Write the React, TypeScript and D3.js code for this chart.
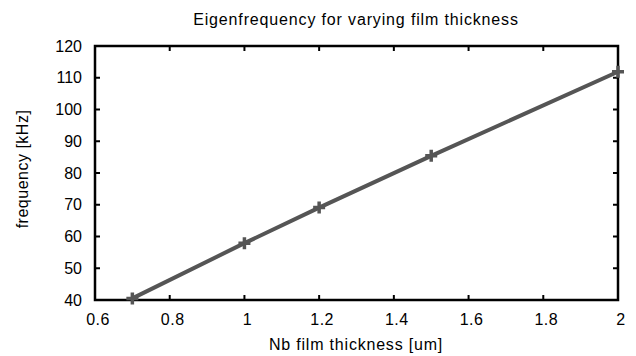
import * as d3 from "d3";
import React, { useEffect, useRef } from "react";

const thickness = [0.7, 1.0, 1.2, 1.5, 2.0];
const frequency = [40.5, 57.9, 69.1, 85.4, 111.9];
const xTicks = [0.6, 0.8, 1, 1.2, 1.4, 1.6, 1.8, 2];
const yTicks = [40, 50, 60, 70, 80, 90, 100, 110, 120];

const App = () => {
  const svgRef = useRef<SVGSVGElement>(null);

  useEffect(() => {
    const svg = d3.select(svgRef.current);
    const width = 636;
    const height = 356;
    const margin = { top: 46, right: 18, bottom: 56, left: 95 };
    const innerWidth = width - margin.left - margin.right;
    const innerHeight = height - margin.top - margin.bottom;
    const font = "'Liberation Sans', Arial, sans-serif";

    svg.selectAll("*").remove();

    const x = d3.scaleLinear().domain([0.6, 2]).range([0, innerWidth]);
    const y = d3.scaleLinear().domain([40, 120]).range([innerHeight, 0]);

    const g = svg
      .append("g")
      .attr("transform", `translate(${margin.left},${margin.top})`);

    // inward ticks on all four sides
    const tickLen = 5;
    const tickSides = [
      { data: xTicks, f: (d) => [x(d), innerHeight, x(d), innerHeight - tickLen] },
      { data: xTicks, f: (d) => [x(d), 0, x(d), tickLen] },
      { data: yTicks, f: (d) => [0, y(d), tickLen, y(d)] },
      { data: yTicks, f: (d) => [innerWidth, y(d), innerWidth - tickLen, y(d)] },
    ];
    tickSides.forEach((s) => {
      g.append("g")
        .selectAll("line")
        .data(s.data)
        .enter()
        .append("line")
        .attr("x1", (d) => s.f(d)[0])
        .attr("y1", (d) => s.f(d)[1])
        .attr("x2", (d) => s.f(d)[2])
        .attr("y2", (d) => s.f(d)[3])
        .attr("stroke", "#000")
        .attr("stroke-width", 2);
    });

    // tick labels
    g.append("g")
      .selectAll("text")
      .data(xTicks)
      .enter()
      .append("text")
      .attr("x", (d) => x(d) + 3)
      .attr("y", innerHeight + 25)
      .attr("text-anchor", "middle")
      .style("font-family", font)
      .style("font-size", "16px")
      .style("letter-spacing", "0.5px")
      .text((d) => d3.format("")(d));
    g.append("g")
      .selectAll("text")
      .data(yTicks)
      .enter()
      .append("text")
      .attr("x", -13)
      .attr("y", (d) => y(d))
      .attr("dy", "0.35em")
      .attr("text-anchor", "end")
      .style("font-family", font)
      .style("font-size", "16px")
      .text((d) => d);

    // frame
    g.append("rect")
      .attr("width", innerWidth)
      .attr("height", innerHeight)
      .attr("fill", "none")
      .attr("stroke", "#000")
      .attr("stroke-width", 2.5);

    // line
    const pts = thickness.map((t, i) => [t, frequency[i]] as [number, number]);
    g.append("path")
      .datum(pts)
      .attr("fill", "none")
      .attr("stroke", "#555")
      .attr("stroke-width", 4)
      .attr("d", d3.line().x((d) => x(d[0])).y((d) => y(d[1])));

    // plus markers
    g.append("g")
      .selectAll("path")
      .data(pts)
      .enter()
      .append("path")
      .attr("transform", (d) => `translate(${x(d[0])},${y(d[1])})`)
      .attr("d", "M-6,0H6M0,-6V6")
      .attr("stroke", "#555")
      .attr("stroke-width", 3.5);

    // titles
    svg
      .append("text")
      .attr("x", 356)
      .attr("y", 25)
      .attr("text-anchor", "middle")
      .style("font-family", font)
      .style("font-size", "16px")
      .style("letter-spacing", "0.85px")
      .text("Eigenfrequency for varying film thickness");
    svg
      .append("text")
      .attr("x", 356)
      .attr("y", 350)
      .attr("text-anchor", "middle")
      .style("font-family", font)
      .style("font-size", "16px")
      .style("letter-spacing", "0.8px")
      .text("Nb film thickness [um]");
    svg
      .append("text")
      .attr("transform", `translate(28,169) rotate(-90)`)
      .attr("text-anchor", "middle")
      .style("font-family", font)
      .style("font-size", "16px")
      .style("letter-spacing", "0.5px")
      .text("frequency [kHz]");
  }, []);

  return (
    <svg
      ref={svgRef}
      width="636"
      height="356"
      style={{ position: "absolute", left: 0, top: 0, background: "#fff" }}
    ></svg>
  );
};

export default App;
